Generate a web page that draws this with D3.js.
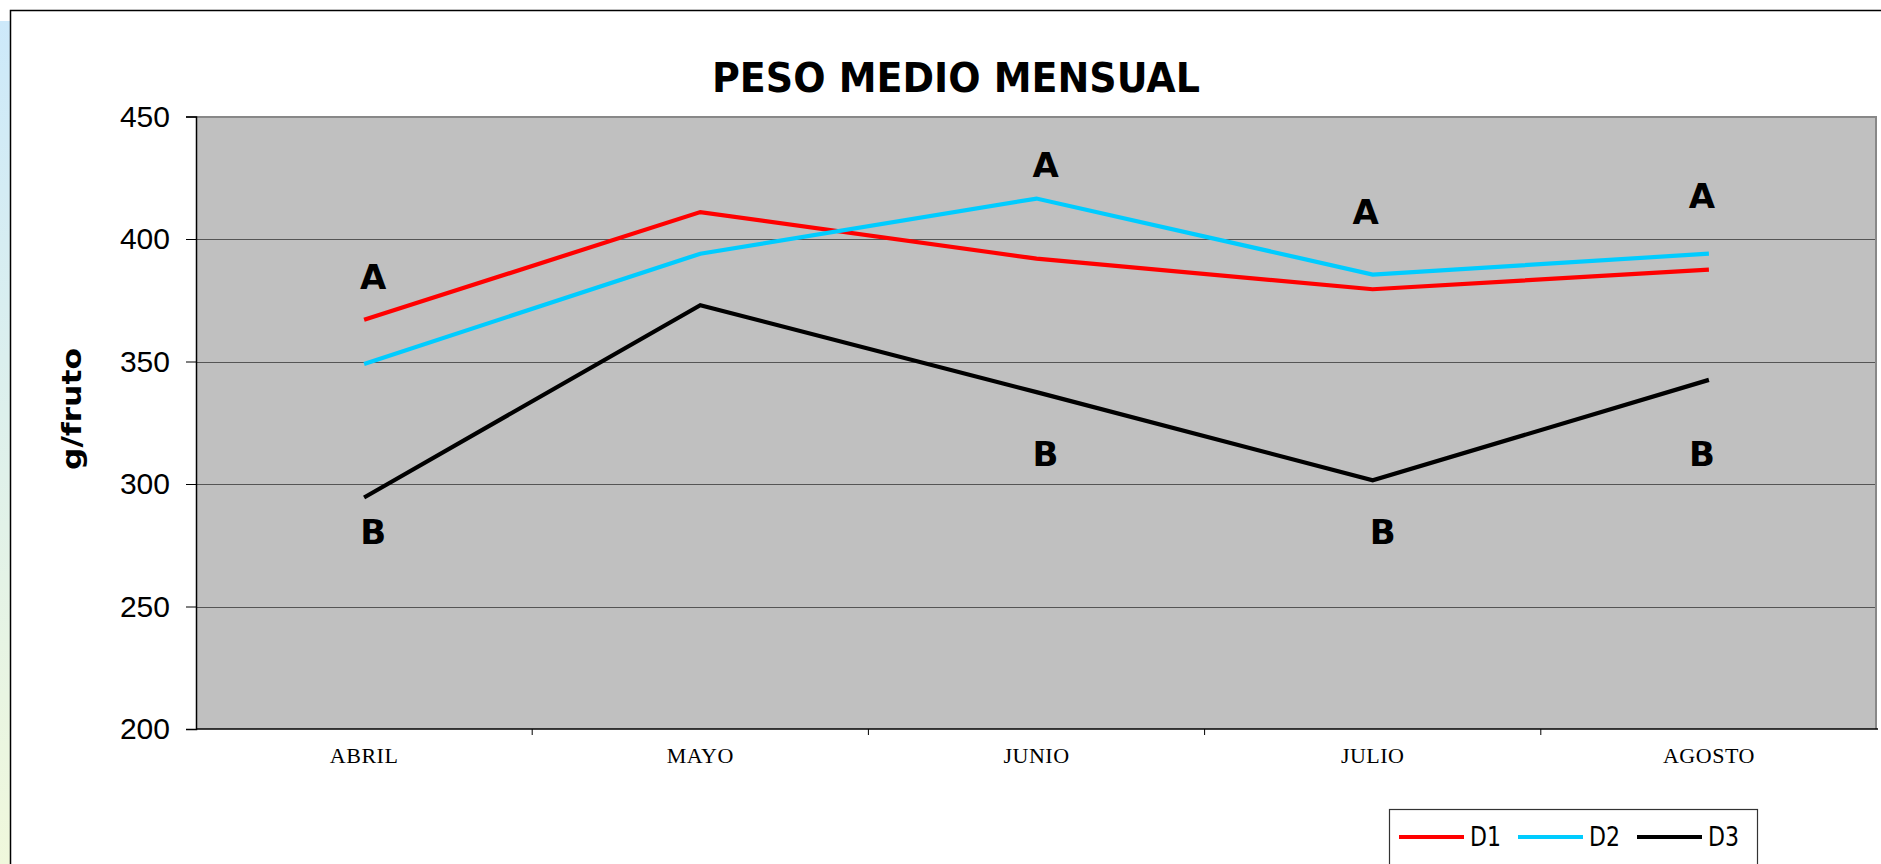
<!DOCTYPE html>
<html>
<head>
<meta charset="utf-8">
<script src="https://cdn.jsdelivr.net/npm/d3@7"></script>
<style>
  body { margin: 0; background: #fff; }
  svg { display: block; }
</style>
</head>
<body>
<svg id="chart"></svg>
<script>
// datos
var categories = ["ABRIL", "MAYO", "JUNIO", "JULIO", "AGOSTO"];
var d1 = [367, 411, 392, 379.5, 387.5];
var d2 = [349, 394, 416.5, 385.5, 394];
var d3v = [294.5, 373, 337.5, 301.5, 342.5];
var seriesNames = ["D1", "D2", "D3"];
var yTicks = [200, 250, 300, 350, 400, 450];

// letras de significancia
var annotLetters = ["A", "B", "A", "B", "A", "B", "A", "B"];
var annotCats = ["ABRIL", "ABRIL", "JUNIO", "JUNIO", "JULIO", "JULIO", "AGOSTO", "AGOSTO"];
var annotValues = [384.5, 280.5, 430.5, 312.5, 411, 280.5, 417.5, 312.5];
var annotShift = [0.027, 0.027, 0.027, 0.027, -0.021, 0.03, -0.021, -0.021];

var width = 1881, height = 864;
var margin = {top: 116.5, right: 4, bottom: 135, left: 196};

var svg = d3.select("#chart")
  .attr("width", width)
  .attr("height", height);

var defs = svg.append("defs");
var grad = defs.append("linearGradient")
  .attr("id", "strip")
  .attr("x1", 0).attr("y1", 0).attr("x2", 0).attr("y2", 1);
grad.append("stop").attr("offset", "0%").attr("stop-color", "#cde9fa");
grad.append("stop").attr("offset", "100%").attr("stop-color", "#f0f8dc");

// franja lateral
svg.append("rect")
  .attr("x", 0).attr("y", 21)
  .attr("width", 10).attr("height", height - 21)
  .attr("fill", "url(#strip)");

// borde exterior
svg.append("path")
  .attr("d", "M10.5," + height + "V10.5H" + width)
  .attr("fill", "none")
  .attr("stroke", "#000")
  .attr("stroke-width", 1.5);

var x = d3.scaleBand()
  .domain(categories)
  .range([margin.left, width - margin.right]);

var y = d3.scaleLinear()
  .domain([200, 450])
  .range([height - margin.bottom, margin.top]);

var color = d3.scaleOrdinal()
  .domain(seriesNames)
  .range(["#ff0000", "#00ccff", "#000000"]);

// area de trazado
svg.append("rect")
  .attr("x", x.range()[0])
  .attr("y", y(450))
  .attr("width", x.range()[1] - x.range()[0])
  .attr("height", y(200) - y(450))
  .attr("fill", "#c0c0c0");

// lineas de division
svg.append("g")
  .selectAll("line")
  .data(yTicks.slice(1, -1))
  .enter()
  .append("line")
  .attr("x1", x.range()[0])
  .attr("x2", x.range()[1])
  .attr("y1", d => Math.round(y(d)) + 0.5)
  .attr("y2", d => Math.round(y(d)) + 0.5)
  .attr("stroke", "#555")
  .attr("stroke-width", 1.2);

// borde gris arriba y derecha
svg.append("path")
  .attr("d", "M" + x.range()[0] + "," + (y(450) + 0.5) + "H" + (x.range()[1] - 1) + "V" + y(200))
  .attr("fill", "none")
  .attr("stroke", "#888")
  .attr("stroke-width", 2);

// eje y
var yAxis = d3.axisLeft(y)
  .tickValues(yTicks)
  .tickSize(10)
  .tickPadding(16);

var gy = svg.append("g")
  .attr("transform", "translate(" + x.range()[0] + ",0)")
  .call(yAxis);
gy.select(".domain").attr("stroke", "#000").attr("stroke-width", 1.5);
gy.selectAll(".tick line").attr("stroke", "#000");
gy.selectAll(".tick text")
  .attr("font-family", "Liberation Sans, Arial, sans-serif")
  .attr("font-size", 30)
  .attr("fill", "#000");

// eje x con marcas entre categorias
var gx = svg.append("g")
  .attr("transform", "translate(0," + y(200) + ")");
gx.append("line")
  .attr("x1", x.range()[0])
  .attr("x2", x.range()[1] + 1)
  .attr("stroke", "#000")
  .attr("stroke-width", 1.5);
gx.selectAll(".tk")
  .data(categories.slice(1))
  .enter()
  .append("line")
  .attr("class", "tk")
  .attr("x1", d => x(d))
  .attr("x2", d => x(d))
  .attr("y1", 0)
  .attr("y2", 6)
  .attr("stroke", "#000");
gx.selectAll("text")
  .data(categories)
  .enter()
  .append("text")
  .attr("x", d => x(d) + x.bandwidth() / 2)
  .attr("y", 34)
  .attr("text-anchor", "middle")
  .attr("font-family", "Liberation Serif, Times New Roman, serif")
  .attr("font-size", 22)
  .attr("letter-spacing", 0.5)
  .attr("fill", "#000")
  .text(d => d);

// series
var series = [
  {name: "D1", values: d1},
  {name: "D2", values: d2},
  {name: "D3", values: d3v}
];

var line = d3.line()
  .x((d, i) => x(categories[i]) + x.bandwidth() / 2)
  .y(d => y(d));

svg.append("g")
  .selectAll("path")
  .data(series)
  .enter()
  .append("path")
  .attr("d", d => line(d.values))
  .attr("fill", "none")
  .attr("stroke", d => color(d.name))
  .attr("stroke-width", 4.2)
  .attr("stroke-linejoin", "miter");

// letras
svg.append("g")
  .selectAll("text")
  .data(annotLetters)
  .enter()
  .append("text")
  .attr("x", (d, i) => x(annotCats[i]) + x.bandwidth() * (0.5 + annotShift[i]))
  .attr("y", (d, i) => y(annotValues[i]))
  .attr("dy", "0.36em")
  .attr("text-anchor", "middle")
  .attr("font-family", "DejaVu Sans, sans-serif")
  .attr("font-weight", "bold")
  .attr("font-size", 34)
  .attr("fill", "#000")
  .text(d => d);

// titulo
svg.append("text")
  .attr("x", 956)
  .attr("y", 92)
  .attr("text-anchor", "middle")
  .attr("font-family", "DejaVu Sans, sans-serif")
  .attr("font-weight", "bold")
  .attr("font-size", 40)
  .attr("textLength", 488)
  .attr("lengthAdjust", "spacingAndGlyphs")
  .text("PESO MEDIO MENSUAL");

// titulo eje y
svg.append("text")
  .attr("transform", "translate(81,409)rotate(-90)")
  .attr("text-anchor", "middle")
  .attr("font-family", "DejaVu Sans, sans-serif")
  .attr("font-weight", "bold")
  .attr("font-size", 26)
  .attr("textLength", 122)
  .attr("lengthAdjust", "spacingAndGlyphs")
  .text("g/fruto");

// leyenda
var legend = svg.append("g");
legend.append("rect")
  .attr("x", 1389.5)
  .attr("y", 809.5)
  .attr("width", 368)
  .attr("height", 80)
  .attr("fill", "#fff")
  .attr("stroke", "#333")
  .attr("stroke-width", 1.2);

var item = legend.selectAll(".item")
  .data(seriesNames)
  .enter()
  .append("g")
  .attr("class", "item")
  .attr("transform", (d, i) => "translate(" + (1399 + i * 119) + ",837)");
item.append("line")
  .attr("x1", 0)
  .attr("x2", 65)
  .attr("stroke", d => color(d))
  .attr("stroke-width", 4);
item.append("text")
  .attr("x", 71)
  .attr("dy", "0.36em")
  .attr("font-family", "DejaVu Sans, sans-serif")
  .attr("font-size", 26)
  .attr("textLength", 31)
  .attr("lengthAdjust", "spacingAndGlyphs")
  .text(d => d);
</script>
</body>
</html>
